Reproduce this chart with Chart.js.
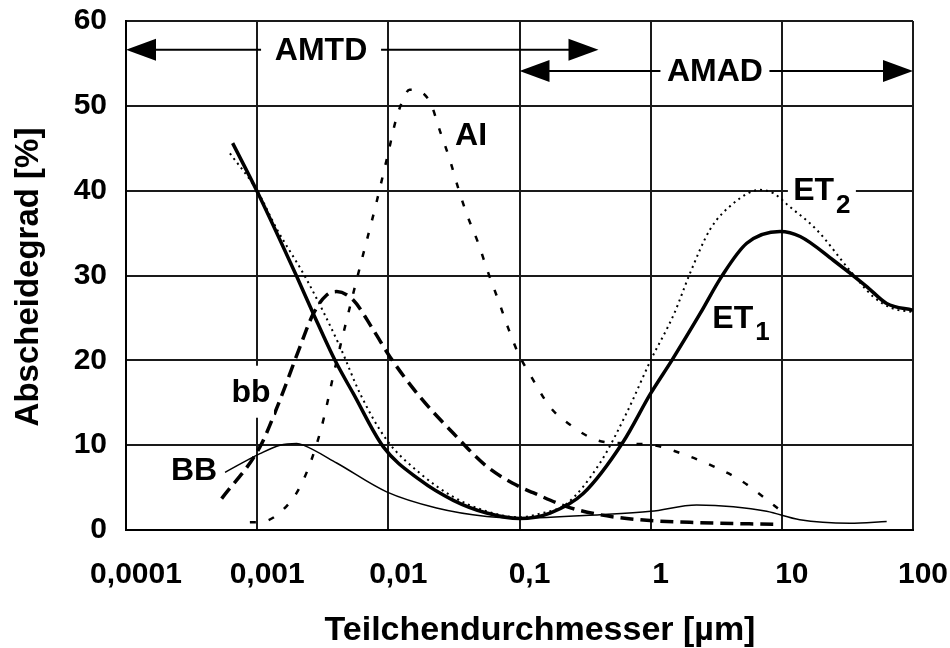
<!DOCTYPE html>
<html>
<head>
<meta charset="utf-8">
<script src="https://cdn.jsdelivr.net/npm/chart.js@4.4.1/dist/chart.umd.min.js"></script>
<style>
  html, body { margin: 0; padding: 0; background: #fff; }
  #wrap { width: 950px; height: 648px; position: relative; }
</style>
</head>
<body>
<div id="wrap"><canvas id="chart"></canvas></div>
<script>
// Particle diameter axis (µm), decade ticks with German decimal commas
const xTickValues = [0.0001, 0.001, 0.01, 0.1, 1, 10, 100];
const xTickLabels = ['0,0001', '0,001', '0,01', '0,1', '1', '10', '100'];
const yTickValues = [0, 10, 20, 30, 40, 50, 60];

// ET1 – extrathoracic deposition (solid, heavy)
const et1Size  = [0.00065, 0.001, 0.002, 0.00268, 0.00392, 0.0054, 0.00916, 0.0174, 0.0313, 0.0562, 0.1, 0.171, 0.306, 0.618, 1.0, 1.45, 2.38, 3.48, 5.4, 9.7, 13.8, 24.7, 44.4, 63.0, 100];
const et1Value = [45.6, 39.9, 29.9, 25.5, 20.0, 16.1, 9.8, 5.9, 3.5, 2.0, 1.35, 2.0, 4.3, 10.4, 16.1, 20.0, 25.5, 29.9, 33.8, 35.2, 34.6, 31.8, 28.7, 26.7, 25.9];

// ET2 (dotted)
const et2Size  = [0.00062, 0.001, 0.00141, 0.00239, 0.00428, 0.00608, 0.00973, 0.0174, 0.0313, 0.0562, 0.1, 0.141, 0.229, 0.411, 0.656, 1.0, 1.51, 2.0, 2.83, 4.27, 6.81, 8.61, 11.5, 18.4, 33.0, 49.8, 70.6, 100];
const et2Value = [44.4, 40.0, 35.5, 29.5, 21.6, 16.1, 10.6, 6.7, 3.9, 2.2, 1.5, 1.9, 3.1, 7.9, 13.8, 20.0, 25.5, 30.3, 35.4, 38.5, 40.1, 39.7, 38.1, 35.4, 30.6, 27.5, 26.1, 25.7];

// bb (heavy dashed)
const bbSmallSize  = [0.000536, 0.00105, 0.00149, 0.00212, 0.00268, 0.00339, 0.00404, 0.0054, 0.00767, 0.0103, 0.0174, 0.0313, 0.0562, 0.1, 0.127, 0.229, 0.411, 0.83, 2.38, 8.6];
const bbSmallValue = [3.7, 9.8, 15.3, 21.6, 25.5, 27.7, 28.1, 27.1, 23.6, 20.4, 15.7, 11.4, 7.5, 5.1, 4.4, 2.75, 1.8, 1.2, 0.86, 0.67];

// AI (light dashed)
const aiSize  = [0.00088, 0.00112, 0.00158, 0.00219, 0.00302, 0.00398, 0.00513, 0.00631, 0.00794, 0.01, 0.0115, 0.0138, 0.0145, 0.0207, 0.0248, 0.0295, 0.0341, 0.0395, 0.0485, 0.0578, 0.0689, 0.082, 0.098, 0.127, 0.171, 0.243, 0.387, 0.656, 1.05, 1.88, 3.01, 4.8, 7.23, 10.3];
const aiValue = [0.9, 1.0, 2.4, 5.5, 11.5, 19.5, 26.5, 32.0, 38.0, 44.5, 48.5, 51.6, 51.9, 50.5, 47.0, 43.6, 40.3, 37.3, 33.8, 30.3, 27.1, 23.8, 20.8, 17.7, 14.5, 12.4, 10.6, 10.2, 10.0, 8.8, 7.5, 5.9, 3.9, 2.0];

// BB (thin solid)
const bbLargeSize  = [0.000569, 0.00105, 0.00149, 0.002, 0.00225, 0.00404, 0.0097, 0.0233, 0.0562, 0.1, 0.411, 1.0, 2.24, 4.27, 7.66, 13.7, 33.0, 63.0];
const bbLargeValue = [6.8, 9.0, 10.0, 10.2, 10.0, 7.9, 4.5, 2.6, 1.6, 1.4, 1.8, 2.2, 2.95, 2.75, 2.2, 1.2, 0.8, 1.0];

// Size ranges of the two aerodynamic regimes
const amtdSpan = [0.0001, 0.4];
const amadSpan = [0.1, 100];
const amtdLevel = 56.6;
const amadLevel = 54.1;

const toPoints = (xs, ys) => xs.map((x, i) => ({ x: x, y: ys[i] }));
const FONT = '"Liberation Sans", Arial, Helvetica, sans-serif';

const curve = (label, xs, ys, width, dash) => ({
  label: label,
  data: toPoints(xs, ys),
  borderColor: '#000',
  backgroundColor: '#000',
  borderWidth: width,
  borderDash: dash,
  borderCapStyle: 'butt',
  pointRadius: 0,
  pointHoverRadius: 0,
  fill: false,
  cubicInterpolationMode: 'monotone'
});

// Curve names, arrows and axis titles
const annotations = {
  id: 'annotations',
  afterDatasetsDraw(chart) {
    const { ctx, scales: { x, y } } = chart;
    ctx.save();
    ctx.fillStyle = '#000';
    ctx.strokeStyle = '#000';

    const arrow = (span, level) => {
      const x1 = x.getPixelForValue(span[0]);
      const x2 = x.getPixelForValue(span[1]);
      const py = y.getPixelForValue(level);
      ctx.lineWidth = 2;
      ctx.beginPath();
      ctx.moveTo(x1 + 20, py);
      ctx.lineTo(x2 - 20, py);
      ctx.stroke();
      const head = (tip, dir) => {
        ctx.beginPath();
        ctx.moveTo(tip, py);
        ctx.lineTo(tip - dir * 30, py - 11);
        ctx.lineTo(tip - dir * 30, py + 11);
        ctx.closePath();
        ctx.fill();
      };
      head(x1, -1);
      head(x2, 1);
    };
    arrow(amtdSpan, amtdLevel);
    arrow(amadSpan, amadLevel);

    const label = (text, xv, yv, sub, bgW, bgH) => {
      const px = x.getPixelForValue(xv);
      const py = y.getPixelForValue(yv);
      ctx.font = 'bold 32px ' + FONT;
      const w = ctx.measureText(text).width;
      let subW = 0;
      if (sub) {
        ctx.font = 'bold 26px ' + FONT;
        subW = ctx.measureText(sub).width + 2;
      }
      const total = w + subW;
      if (bgW) {
        ctx.fillStyle = '#fff';
        ctx.fillRect(px - bgW / 2, py - bgH / 2, bgW, bgH);
        ctx.fillStyle = '#000';
      }
      ctx.textBaseline = 'middle';
      ctx.textAlign = 'left';
      ctx.font = 'bold 32px ' + FONT;
      const left = px - total / 2;
      ctx.fillText(text, left, py + 1);
      if (sub) {
        ctx.font = 'bold 26px ' + FONT;
        ctx.fillText(sub, left + w + 2, py + 15);
      }
    };
    label('AMTD', 0.00307, amtdLevel, null, 120, 30);
    label('AMAD', 3.09, amadLevel, null, 109, 30);
    label('AI', 0.0427, 46.6);
    label('ET', 20.2, 40.0, '2', 68, 30);
    label('ET', 4.88, 25.0, '1');
    label('bb', 0.000897, 16.3, null, 46, 52);
    label('BB', 0.00033, 7.1);

    // axis titles
    ctx.textAlign = 'center';
    ctx.textBaseline = 'middle';
    ctx.font = 'bold 34px ' + FONT;
    ctx.fillText('Teilchendurchmesser [µm]', 540, 631);
    ctx.translate(29, 277);
    ctx.rotate(-Math.PI / 2);
    ctx.font = 'bold 33px ' + FONT;
    ctx.fillText('Abscheidegrad [%]', 0, 0);
    ctx.restore();
  }
};

new Chart(document.getElementById('chart'), {
  type: 'line',
  data: {
    datasets: [
      curve('ET1', et1Size, et1Value, 3.5, []),
      curve('ET2', et2Size, et2Value, 2, [2, 4]),
      curve('bb', bbSmallSize, bbSmallValue, 3.5, [13, 7]),
      curve('AI', aiSize, aiValue, 2.5, [6, 13]),
      curve('BB', bbLargeSize, bbLargeValue, 1.5, [])
    ]
  },
  options: {
    responsive: true,
    maintainAspectRatio: false,
    animation: false,
    events: [],
    layout: { padding: { top: 21, right: 37, left: 0, bottom: 0 } },
    plugins: { legend: { display: false }, tooltip: { enabled: false } },
    scales: {
      x: {
        type: 'logarithmic',
        position: 'bottom',
        min: xTickValues[0],
        max: xTickValues[xTickValues.length - 1],
        afterBuildTicks: (scale) => { scale.ticks = xTickValues.map(v => ({ value: v })); },
        afterFit: (scale) => {
          scale.height = 118;
          scale.paddingLeft = 0;
          scale.paddingRight = 0;
        },
        grid: { color: '#1a1a1a', lineWidth: 2, drawTicks: false },
        border: { color: '#000', width: 2 },
        ticks: {
          autoSkip: false,
          maxRotation: 0,
          padding: 27,
          labelOffset: 10,
          color: '#000',
          font: { family: FONT, size: 30, weight: 'bold' },
          callback: (value, index) => xTickLabels[index]
        }
      },
      y: {
        min: yTickValues[0],
        max: yTickValues[yTickValues.length - 1],
        afterBuildTicks: (scale) => { scale.ticks = yTickValues.map(v => ({ value: v })); },
        afterFit: (scale) => {
          scale.width = 126;
          scale.paddingTop = 0;
          scale.paddingBottom = 0;
        },
        grid: { color: '#1a1a1a', lineWidth: 2, drawTicks: false },
        border: { color: '#000', width: 2 },
        ticks: {
          padding: 19,
          color: '#000',
          font: { family: FONT, size: 30, weight: 'bold' },
          callback: (value) => String(value)
        }
      }
    }
  },
  plugins: [annotations]
});
</script>
</body>
</html>
